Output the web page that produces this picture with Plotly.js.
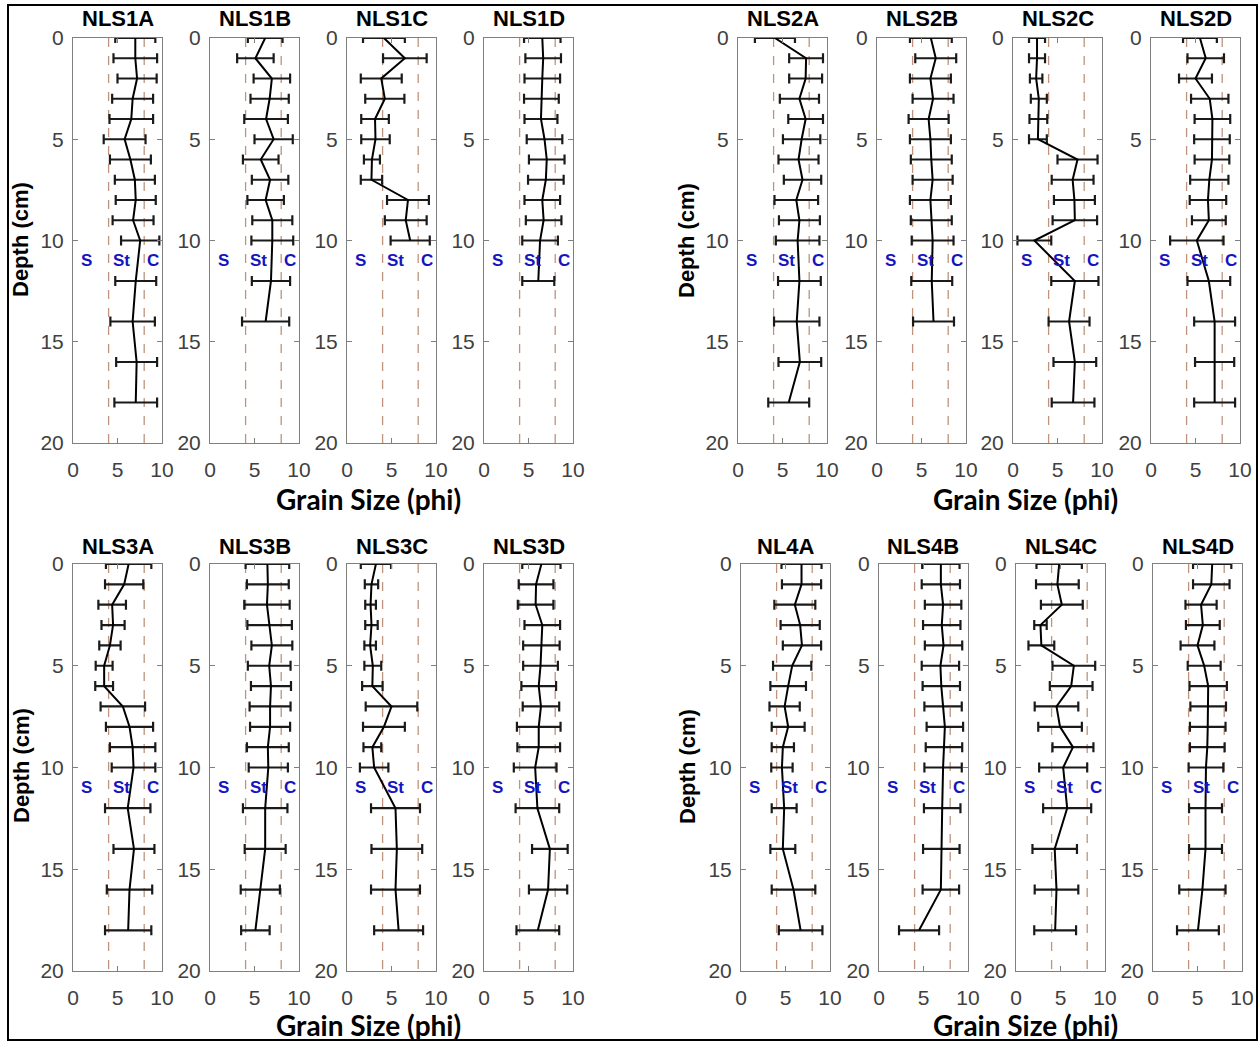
<!DOCTYPE html>
<html>
<head>
<meta charset="utf-8">
<script src="https://cdn.plot.ly/plotly-3.0.1.min.js"></script>
<style>
  html, body { margin: 0; padding: 0; background: #ffffff; }
  #chart { width: 1260px; height: 1042px; }
</style>
</head>
<body>
<div id="chart"></div>
<script>
// Sampling depths (cm)
const depth15 = [0, 1, 2, 3, 4, 5, 6, 7, 8, 9, 10, 12, 14, 16, 18];
const depth13 = [0, 1, 2, 3, 4, 5, 6, 7, 8, 9, 10, 12, 14];
const depth12 = [0, 1, 2, 3, 4, 5, 6, 7, 8, 9, 10, 12];
const depth11 = [0, 1, 2, 3, 4, 5, 6, 7, 8, 9, 10];

// Mean grain size (phi) and standard deviation for each core
const nls1aMean = [7.0, 7.0, 7.2, 6.7, 6.55, 5.8, 6.45, 6.95, 7.05, 6.75, 7.55, 7.05, 6.7, 7.15, 7.05];
const nls1aSd   = [2.25, 2.45, 2.2, 2.3, 2.45, 2.35, 2.3, 2.25, 2.25, 2.3, 2.15, 2.3, 2.5, 2.3, 2.4];
const nls1bMean = [6.2, 5.1, 6.95, 6.7, 6.3, 7.15, 5.7, 6.75, 6.25, 7.0, 7.0, 6.85, 6.25];
const nls1bSd   = [1.95, 2.05, 2.05, 2.15, 2.45, 2.15, 2.0, 2.05, 2.05, 2.25, 2.35, 2.15, 2.65];
const nls1cMean = [4.15, 6.5, 3.85, 4.25, 3.15, 3.2, 2.8, 2.75, 6.85, 6.6, 7.1];
const nls1cSd   = [2.35, 2.45, 2.3, 2.2, 1.55, 1.6, 0.9, 1.2, 2.35, 2.35, 2.2];
const nls1dMean = [6.55, 6.65, 6.55, 6.45, 6.4, 6.8, 7.05, 6.95, 6.55, 6.7, 6.3, 6.1];
const nls1dSd   = [2.05, 2.0, 2.0, 1.95, 1.85, 2.0, 2.0, 2.0, 2.0, 2.0, 2.0, 1.8];

const nls2aMean = [4.15, 7.65, 7.6, 6.9, 7.6, 7.15, 6.8, 7.25, 6.55, 6.9, 6.7, 6.9, 6.6, 6.95, 5.7];
const nls2aSd   = [2.25, 1.9, 1.85, 2.2, 1.95, 2.1, 2.25, 2.1, 2.45, 2.3, 2.45, 2.4, 2.55, 2.4, 2.3];
const nls2bMean = [6.05, 6.6, 6.0, 6.3, 5.8, 6.0, 6.1, 6.25, 6.0, 6.1, 6.25, 6.15, 6.35];
const nls2bSd   = [2.35, 2.3, 2.3, 2.3, 2.25, 2.3, 2.3, 2.25, 2.3, 2.3, 2.35, 2.3, 2.3];
const nls2cMean = [2.7, 2.7, 2.6, 2.9, 2.85, 2.8, 7.25, 6.7, 6.9, 6.95, 2.4, 6.95, 6.3, 6.95, 6.75];
const nls2cSd   = [0.9, 0.9, 0.7, 0.9, 1.0, 1.0, 2.25, 2.35, 2.3, 2.5, 1.9, 2.65, 2.3, 2.4, 2.4];
const nls2dMean = [5.5, 6.15, 5.0, 6.6, 6.9, 6.85, 6.85, 6.55, 6.4, 6.5, 5.15, 6.5, 7.15, 7.15, 7.15];
const nls2dSd   = [1.9, 2.05, 1.85, 2.1, 2.0, 2.0, 1.95, 2.15, 2.05, 1.9, 3.0, 2.4, 2.3, 2.2, 2.3];

const nls3aMean = [6.25, 5.75, 4.4, 4.5, 4.15, 3.5, 3.5, 5.6, 6.35, 6.7, 6.8, 6.15, 6.85, 6.35, 6.2];
const nls3aSd   = [2.55, 2.15, 1.55, 1.3, 1.2, 0.95, 1.0, 2.5, 2.65, 2.55, 2.45, 2.55, 2.3, 2.55, 2.6];
const nls3bMean = [6.45, 6.5, 6.4, 6.7, 6.95, 6.65, 6.85, 6.75, 6.75, 6.5, 6.55, 6.2, 6.2, 5.65, 5.1];
const nls3bSd   = [2.45, 2.35, 2.55, 2.5, 2.3, 2.4, 2.25, 2.3, 2.25, 2.35, 2.2, 2.5, 2.3, 2.2, 1.6];
const nls3cMean = [3.25, 2.75, 2.65, 2.75, 2.6, 2.9, 2.85, 5.0, 4.15, 2.85, 3.05, 5.45, 5.6, 5.45, 5.8];
const nls3cSd   = [1.7, 0.75, 0.6, 0.7, 0.65, 0.95, 1.15, 2.9, 2.35, 1.0, 1.6, 2.75, 2.85, 2.75, 2.75];
const nls3dMean = [6.45, 5.85, 5.8, 6.55, 6.45, 6.35, 6.15, 6.4, 6.15, 6.15, 5.75, 6.0, 7.4, 7.2, 6.05];
const nls3dSd   = [2.15, 1.95, 2.0, 2.0, 2.05, 1.95, 1.95, 2.05, 2.45, 2.4, 2.4, 2.45, 2.0, 2.15, 2.4];

const nl4aMean  = [6.8, 6.8, 6.05, 6.65, 6.85, 5.75, 5.3, 4.9, 5.3, 4.7, 4.6, 4.85, 4.7, 5.9, 6.7];
const nl4aSd    = [2.25, 2.2, 2.3, 2.2, 2.15, 2.15, 2.0, 1.7, 1.85, 1.25, 1.2, 1.4, 1.4, 2.45, 2.45];
const nls4bMean = [6.95, 6.95, 7.2, 7.05, 7.25, 6.9, 7.0, 7.2, 7.4, 7.3, 7.2, 7.1, 7.0, 6.95, 4.5];
const nls4bSd   = [2.1, 2.15, 2.05, 2.1, 2.1, 2.1, 2.1, 2.1, 2.05, 2.05, 2.1, 2.05, 2.05, 2.05, 2.25];
const nls4cMean = [4.85, 4.65, 5.15, 2.75, 2.85, 6.5, 6.2, 4.55, 4.95, 6.4, 5.3, 5.75, 4.35, 4.55, 4.4];
const nls4cSd   = [2.55, 2.4, 2.35, 0.7, 1.45, 2.4, 2.4, 2.45, 2.45, 2.3, 2.7, 2.7, 2.5, 2.45, 2.35];
const nls4dMean = [6.65, 6.55, 5.4, 5.6, 5.0, 5.75, 6.2, 6.2, 6.15, 6.1, 5.95, 5.9, 5.9, 5.55, 5.05];
const nls4dSd   = [2.15, 2.05, 1.75, 1.9, 1.9, 1.85, 2.1, 2.0, 2.0, 1.95, 1.95, 1.85, 1.85, 2.6, 2.35];

// Grain-size class boundaries (phi) and their labels
const classBounds = [4, 8];
const classLabels = ["S", "St", "C"];
const classLabelX = [1.5, 5.4, 9.0];
const classLabelDepth = 11;

const xTicks = [0, 5, 10];
const yTicks = [0, 5, 10, 15, 20];

const cores = [
  { name: "NLS1A", depth: depth15, mean: nls1aMean, sd: nls1aSd },
  { name: "NLS1B", depth: depth13, mean: nls1bMean, sd: nls1bSd },
  { name: "NLS1C", depth: depth11, mean: nls1cMean, sd: nls1cSd },
  { name: "NLS1D", depth: depth12, mean: nls1dMean, sd: nls1dSd },
  { name: "NLS2A", depth: depth15, mean: nls2aMean, sd: nls2aSd },
  { name: "NLS2B", depth: depth13, mean: nls2bMean, sd: nls2bSd },
  { name: "NLS2C", depth: depth15, mean: nls2cMean, sd: nls2cSd },
  { name: "NLS2D", depth: depth15, mean: nls2dMean, sd: nls2dSd },
  { name: "NLS3A", depth: depth15, mean: nls3aMean, sd: nls3aSd },
  { name: "NLS3B", depth: depth15, mean: nls3bMean, sd: nls3bSd },
  { name: "NLS3C", depth: depth15, mean: nls3cMean, sd: nls3cSd },
  { name: "NLS3D", depth: depth15, mean: nls3dMean, sd: nls3dSd },
  { name: "NL4A",  depth: depth15, mean: nl4aMean,  sd: nl4aSd },
  { name: "NLS4B", depth: depth15, mean: nls4bMean, sd: nls4bSd },
  { name: "NLS4C", depth: depth15, mean: nls4cMean, sd: nls4cSd },
  { name: "NLS4D", depth: depth15, mean: nls4dMean, sd: nls4dSd }
];

// Page geometry (pixels)
const W = 1260, H = 1042;
const rowTop = [38, 564], rowBottom = [443, 971];
const colLeft = [
  [73, 210, 347, 484, 738, 877, 1013, 1151],
  [73, 210, 347, 484, 741, 879, 1016, 1153]
];
const boxW = 89;
const px = v => v / W;
const py = v => 1 - v / H;

const tickFont = { family: "Liberation Sans, Arial, sans-serif", size: 21, color: "#404040" };
const boxColor = "#7f7f7f";

const data = [];
const layout = {
  width: W, height: H,
  margin: { l: 0, r: 0, t: 0, b: 0 },
  paper_bgcolor: "#ffffff",
  plot_bgcolor: "#ffffff",
  showlegend: false,
  shapes: [],
  annotations: []
};

cores.forEach((core, i) => {
  const n = i + 1;
  const row = i < 8 ? 0 : 1;
  const col = i % 8;
  const left = colLeft[row][col];
  const xName = "x" + n, yName = "y" + n;

  layout["xaxis" + n] = {
    domain: [px(left), px(left + boxW)],
    anchor: yName,
    range: [0, 10],
    tickvals: xTicks,
    ticks: "inside",
    ticklen: 5,
    tickcolor: boxColor,
    showline: true,
    linecolor: boxColor,
    linewidth: 1,
    mirror: "ticks",
    showgrid: false,
    zeroline: false,
    tickfont: tickFont,
    ticklabelstandoff: 8,
    fixedrange: true
  };
  layout["yaxis" + n] = {
    domain: [py(rowBottom[row]), py(rowTop[row])],
    anchor: xName,
    range: [20, 0],
    tickvals: yTicks,
    ticks: "inside",
    ticklen: 5,
    tickcolor: boxColor,
    showline: true,
    linecolor: boxColor,
    linewidth: 1,
    mirror: "ticks",
    showgrid: false,
    zeroline: false,
    tickfont: tickFont,
    ticklabelstandoff: 4,
    fixedrange: true
  };

  data.push({
    type: "scatter",
    mode: "lines",
    x: core.mean,
    y: core.depth,
    xaxis: xName,
    yaxis: yName,
    line: { color: "#000000", width: 2 },
    error_x: {
      type: "data",
      array: core.sd,
      symmetric: true,
      color: "#1a1a1a",
      thickness: 2.2,
      width: 5
    },
    hoverinfo: "skip"
  });

  // class boundary lines
  classBounds.forEach(b => {
    layout.shapes.push({
      type: "line", layer: "below",
      xref: xName, yref: yName,
      x0: b, x1: b, y0: 0, y1: 20,
      line: { color: "rgb(190,148,124)", width: 1.3, dash: "dash" }
    });
  });

  // class labels
  classLabels.forEach((lab, k) => {
    layout.annotations.push({
      xref: xName, yref: yName,
      x: classLabelX[k], y: classLabelDepth,
      text: "<b>" + lab + "</b>", showarrow: false,
      font: { family: "Liberation Sans, Arial, sans-serif", size: 17, color: "#1414c0" }
    });
  });

  // panel title
  layout.annotations.push({
    xref: "paper", yref: "paper",
    x: px(left + boxW / 2), y: py(row === 0 ? 18 : 546),
    text: "<b>" + core.name + "</b>", showarrow: false,
    xanchor: "center", yanchor: "middle",
    font: { family: "Liberation Sans, Arial, sans-serif", size: 22, color: "#000000" }
  });
});

// Shared axis labels for each group of four cores
const groupDepthX = [21, 687];
const groupDepthY = [240, 766];
const groupGrainX = [368, 1025];
const groupGrainY = [499, 1025];
[0, 1].forEach(row => {
  [0, 1].forEach(g => {
    layout.annotations.push({
      xref: "paper", yref: "paper",
      x: px(groupDepthX[g]), y: py(groupDepthY[row]),
      text: "<b>Depth (cm)</b>", showarrow: false, textangle: -90,
      xanchor: "center", yanchor: "middle",
      font: { family: "Liberation Sans, Arial, sans-serif", size: 22, color: "#000000" }
    });
    layout.annotations.push({
      xref: "paper", yref: "paper",
      x: px(groupGrainX[g]), y: py(groupGrainY[row]),
      text: "<b>Grain Size (phi)</b>", showarrow: false,
      xanchor: "center", yanchor: "middle", borderpad: 0,
      font: { family: "Lato, Open Sans, sans-serif", size: 28, color: "#000000" }
    });
  });
});

// Outer frame
layout.shapes.push({
  type: "rect", xref: "paper", yref: "paper",
  x0: px(8), x1: px(1257), y0: py(1040), y1: py(5),
  line: { color: "#000000", width: 2 }, fillcolor: "rgba(0,0,0,0)"
});

Plotly.newPlot("chart", data, layout, { staticPlot: true, displayModeBar: false });
</script>
</body>
</html>
